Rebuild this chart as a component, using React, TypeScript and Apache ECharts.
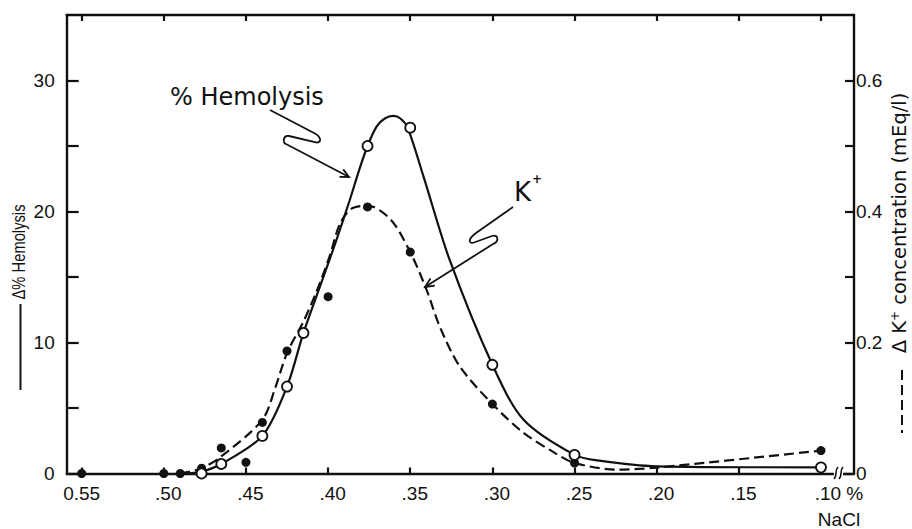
import React, { useEffect, useRef } from "react";
import * as echarts from "echarts";

// ---- data ----
const xTicks = [0.55, 0.5, 0.45, 0.4, 0.35, 0.3, 0.25, 0.2, 0.15, 0.1];
const xTickLabels = ["0.55", ".50", ".45", ".40", ".35", ".30", ".25", ".20", ".15", ".10 %"];
const leftTicks = [0, 5, 10, 15, 20, 25, 30];
const leftLabels = [0, 10, 20, 30];
const rightTicks = [0, 0.1, 0.2, 0.3, 0.4, 0.5, 0.6];
const rightLabels = [0, 0.2, 0.4, 0.6];

// % hemolysis (open circles, left axis)
const hemoX = [0.477, 0.465, 0.44, 0.425, 0.415, 0.376, 0.35, 0.3, 0.25, 0.1];
const hemoY = [0, 0.73, 2.87, 6.64, 10.73, 25.0, 26.4, 8.3, 1.42, 0.47];

// K+ concentration (filled dots, right axis, mEq/l)
const kX = [0.55, 0.5, 0.49, 0.477, 0.465, 0.45, 0.44, 0.425, 0.4, 0.376, 0.35, 0.3, 0.25, 0.1];
const kY = [0, 0, 0, 0.008, 0.039, 0.017, 0.078, 0.187, 0.27, 0.407, 0.338, 0.106, 0.016, 0.035];

// hand-drawn fitted curves
const hemoCurveX = [0.486, 0.477, 0.465, 0.44, 0.425, 0.415, 0.404, 0.395, 0.387, 0.381, 0.376, 0.3704, 0.3655, 0.3603, 0.356, 0.3516, 0.342, 0.326, 0.3, 0.281, 0.25, 0.235, 0.2, 0.1];
const hemoCurveY = [0, 0.15, 0.73, 2.87, 6.64, 10.73, 14.6, 17.8, 20.8, 23.2, 25.0, 26.5, 27.1, 27.3, 27.1, 26.4, 22.7, 16.3, 8.3, 4.1, 1.42, 0.98, 0.55, 0.47];
const kCurveX = [0.49, 0.477, 0.465, 0.44, 0.432, 0.425, 0.415, 0.407, 0.399, 0.393, 0.386, 0.376, 0.362, 0.35, 0.34, 0.332, 0.32, 0.3, 0.281, 0.263, 0.25, 0.224, 0.2, 0.1];
const kCurveY = [0, 0.008, 0.026, 0.082, 0.132, 0.184, 0.232, 0.278, 0.332, 0.38, 0.404, 0.409, 0.388, 0.338, 0.28, 0.224, 0.164, 0.106, 0.062, 0.033, 0.016, 0.006, 0.009, 0.035];

const INK = "#111";
const FONT = '"Liberation Sans", Arial, sans-serif';
const DFONT = '"DejaVu Sans", sans-serif';

let registered = false;
function registerShapes() {
  if (registered) return;
  registered = true;
  echarts.graphic.registerShape(
    "hemoArrow",
    echarts.graphic.extendPath(
      "M270,110 L314,133 C321,136.5 322,142 317,142.7 L289,136 C283,135 282,143 287,144.5 L349,177",
      {}
    )
  );
  echarts.graphic.registerShape(
    "kArrow",
    echarts.graphic.extendPath(
      "M513,207 L476,233 C468,239 468,244 474,242.5 L492,236 C499,234 499,242 493,244 L425,287",
      {}
    )
  );
  echarts.graphic.registerShape(
    "axisBreak",
    echarts.graphic.extendPath(
      "M834,479 C838,475 834,471 838,467 M839,479 C843,475 839,471 843,467",
      {}
    )
  );
}

function zip(a: number[], b: number[]) {
  return a.map((v, i) => [v, b[i]]);
}

export default function App() {
  const ref = useRef<HTMLDivElement>(null);
  useEffect(() => {
    if (!ref.current) return;
    registerShapes();
    const chart = echarts.init(ref.current, null, { renderer: "svg" });
    const base = { fontSize: 19, fontFamily: FONT, color: INK, lineHeight: 26 };
    const xLabel = (v: number) => {
      const i = xTicks.findIndex((t) => Math.abs(t - v) < 1e-6);
      if (i < 0) return "";
      const s = xTickLabels[i];
      if (i === 0) return `{a|${s}}`;
      if (i === xTicks.length - 1) return `{u|${s}}\n{u|NaCl}`;
      return `{b|${s}}`;
    };
    const axisLine = { show: true, onZero: false, lineStyle: { color: INK, width: 2.4 } };
    const tickStyle = { color: INK, width: 2.2 };
    const option: any = {
      animation: false,
      backgroundColor: "#fff",
      grid: { left: 66.7, right: 58, top: 15, bottom: 55.5, containLabel: false },
      xAxis: [
        {
          type: "value",
          position: "bottom",
          min: 0.0799,
          max: 0.5591,
          inverse: true,
          axisLine,
          splitLine: { show: false },
          axisTick: { show: true, inside: true, length: 6, customValues: xTicks, lineStyle: tickStyle },
          axisLabel: {
            show: true,
            customValues: xTicks,
            margin: 7,
            formatter: xLabel,
            rich: {
              a: { ...base },
              b: { ...base, padding: [0, 0, 0, 9] },
              u: { ...base, padding: [0, 0, 0, 36] },
            },
          },
        },
        {
          type: "value",
          position: "top",
          min: 0.0799,
          max: 0.5591,
          inverse: true,
          axisLine,
          splitLine: { show: false },
          axisTick: { show: true, inside: true, length: 6, customValues: xTicks, lineStyle: tickStyle },
          axisLabel: { show: false },
        },
      ],
      yAxis: [
        {
          type: "value",
          position: "left",
          min: 0,
          max: 35,
          axisLine,
          splitLine: { show: false },
          axisTick: { show: true, inside: true, length: 12, customValues: leftTicks, lineStyle: tickStyle },
          axisLabel: { show: true, customValues: leftLabels, margin: 12, fontSize: 19, fontFamily: FONT, color: INK },
        },
        {
          type: "value",
          position: "right",
          min: 0,
          max: 0.7,
          axisLine,
          splitLine: { show: false },
          axisTick: { show: true, inside: true, length: 9, customValues: rightTicks, lineStyle: tickStyle },
          axisLabel: {
            show: true,
            customValues: rightLabels,
            margin: 2,
            fontSize: 19,
            fontFamily: FONT,
            color: INK,
            formatter: (v: number) => (v === 0 ? "0" : v.toFixed(1)),
          },
        },
      ],
      series: [
        {
          name: "% Hemolysis curve",
          type: "line",
          xAxisIndex: 0,
          yAxisIndex: 0,
          data: zip(hemoCurveX, hemoCurveY),
          smooth: 0.3,
          symbol: "none",
          lineStyle: { color: INK, width: 2.2 },
          z: 3,
        },
        {
          name: "K+ curve",
          type: "line",
          xAxisIndex: 0,
          yAxisIndex: 1,
          data: zip(kCurveX, kCurveY),
          smooth: 0.3,
          symbol: "none",
          lineStyle: { color: INK, width: 2.2, type: [10, 5] },
          z: 3,
        },
        {
          name: "K+",
          type: "scatter",
          xAxisIndex: 0,
          yAxisIndex: 1,
          data: zip(kX, kY),
          symbol: "circle",
          symbolSize: 9,
          itemStyle: { color: INK, opacity: 1 },
          z: 4,
        },
        {
          name: "% Hemolysis",
          type: "scatter",
          xAxisIndex: 0,
          yAxisIndex: 0,
          data: zip(hemoX, hemoY),
          symbol: "circle",
          symbolSize: 10,
          itemStyle: { color: "#fff", borderColor: INK, borderWidth: 1.8, opacity: 1 },
          z: 5,
        },
      ],
      graphic: [
        {
          type: "text",
          x: 170,
          y: 97,
          z: 100,
          style: { text: "% Hemolysis", font: `24px ${DFONT}`, fill: INK, verticalAlign: "middle", textVerticalAlign: "middle" },
        },
        { type: "hemoArrow", z: 100, style: { stroke: INK, lineWidth: 1.8, fill: "none" } },
        {
          type: "polyline",
          z: 100,
          shape: { points: [[339.5, 176.8], [349, 177], [343.2, 169.4]] },
          style: { stroke: INK, lineWidth: 1.8, fill: "none" },
        },
        {
          type: "text",
          x: 514,
          y: 192,
          z: 100,
          style: { text: "K", font: `26px ${DFONT}`, fill: INK, verticalAlign: "middle", textVerticalAlign: "middle" },
        },
        {
          type: "text",
          x: 532,
          y: 179,
          z: 100,
          style: { text: "+", font: `bold 12px ${DFONT}`, fill: INK, verticalAlign: "middle", textVerticalAlign: "middle" },
        },
        { type: "kArrow", z: 100, style: { stroke: INK, lineWidth: 1.8, fill: "none" } },
        {
          type: "polyline",
          z: 100,
          shape: { points: [[430.5, 278.6], [425, 287], [434.8, 285.6]] },
          style: { stroke: INK, lineWidth: 1.8, fill: "none" },
        },
        // axis break on the bottom axis
        { type: "rect", z: 100, shape: { x: 834, y: 470, width: 9, height: 7 }, style: { fill: "#fff" } },
        { type: "axisBreak", z: 101, style: { stroke: INK, lineWidth: 1.6, fill: "none" } },
        // left axis title
        {
          type: "text",
          x: 18.5,
          y: 252,
          rotation: Math.PI / 2,
          scaleX: 0.82,
          z: 100,
          style: {
            text: "Δ% Hemolysis",
            font: `18px ${FONT}`,
            fill: INK,
            align: "center",
            verticalAlign: "middle",
            textAlign: "center",
            textVerticalAlign: "middle",
          },
        },
        { type: "line", z: 100, shape: { x1: 20.5, y1: 304, x2: 20.5, y2: 390 }, style: { stroke: INK, lineWidth: 2 } },
        // right axis title
        {
          type: "text",
          x: 899,
          y: 223,
          rotation: Math.PI / 2,
          z: 100,
          style: {
            text: "{a|Δ K}{s|+}{a| concentration (mEq/l)}",
            fill: INK,
            align: "center",
            verticalAlign: "middle",
            textAlign: "center",
            textVerticalAlign: "middle",
            rich: {
              a: { fontSize: 19.5, fontFamily: DFONT, color: INK, lineHeight: 22 },
              s: { fontSize: 12, fontFamily: DFONT, color: INK, padding: [0, 0, 8, 0] },
            },
          },
        },
        {
          type: "line",
          z: 100,
          shape: { x1: 902, y1: 370, x2: 902, y2: 433 },
          style: { stroke: INK, lineWidth: 2, lineDash: [10, 5] },
        },
      ],
    };
    chart.setOption(option);
    return () => chart.dispose();
  }, []);
  return (
    <div
      ref={ref}
      style={{ position: "absolute", left: 0, top: 0, width: 912, height: 529, background: "#fff" }}
    />
  );
}
